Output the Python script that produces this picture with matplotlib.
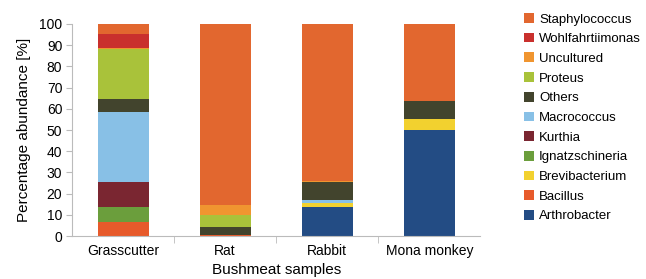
import numpy as np
import matplotlib
matplotlib.use("Agg")
import matplotlib.pyplot as plt

plt.rcParams["font.family"] = ["Liberation Sans", "DejaVu Sans"]

# --- Data (percent abundance) ---
samples = ["Grasscutter", "Rat", "Rabbit", "Mona monkey"]
arthrobacter = [0.0, 0.0, 13.5, 50.0]
bacillus = [6.8, 0.7, 0.0, 0.0]
brevibacterium = [0.0, 0.0, 1.9, 5.3]
ignatzschineria = [6.7, 0.0, 0.0, 0.0]
kurthia = [11.8, 0.0, 0.0, 0.0]
macrococcus = [33.3, 0.0, 1.4, 0.0]
others = [6.0, 3.7, 8.7, 8.5]
proteus = [23.8, 5.5, 0.0, 0.0]
uncultured = [0.3, 4.7, 0.5, 0.0]
wohlfahrtiimonas = [6.6, 0.0, 0.0, 0.0]
staphylococcus = [4.7, 85.4, 74.0, 36.2]

series = [
    ("Arthrobacter", arthrobacter, "#234C84"),
    ("Bacillus", bacillus, "#E75A2B"),
    ("Brevibacterium", brevibacterium, "#F2D12F"),
    ("Ignatzschineria", ignatzschineria, "#6B9E3C"),
    ("Kurthia", kurthia, "#7A2631"),
    ("Macrococcus", macrococcus, "#88C0E6"),
    ("Others", others, "#42442D"),
    ("Proteus", proteus, "#A9C23A"),
    ("Uncultured", uncultured, "#F09530"),
    ("Wohlfahrtiimonas", wohlfahrtiimonas, "#C9302D"),
    ("Staphylococcus", staphylococcus, "#E2672F"),
]

# --- Plot ---
fig = plt.figure(figsize=(6.46, 2.79), dpi=100)
ax = fig.add_axes([0.1115, 0.154, 0.632, 0.760])

x = np.arange(len(samples))
bottom = np.zeros(len(samples))
handles = []
for name, vals, color in series:
    b = ax.bar(x, vals, width=0.5, bottom=bottom, color=color, label=name)
    handles.append(b)
    bottom += np.array(vals)

ax.set_xlim(-0.5, len(samples) - 0.5)
ax.set_ylim(0, 100)
ax.set_yticks(range(0, 101, 10))
ax.set_xticks(x)
ax.set_xticklabels(samples)
ax.set_xticks(np.arange(0.5, len(samples) - 0.5, 1), minor=True)
ax.tick_params(axis="x", which="major", length=0, labelsize=10, pad=6)
ax.tick_params(axis="x", which="minor", length=5, color="#BBBBBB")
ax.tick_params(axis="y", length=4, color="#BBBBBB", labelsize=10, pad=3)

for side in ["top", "right"]:
    ax.spines[side].set_visible(False)
for side in ["left", "bottom"]:
    ax.spines[side].set_color("#BBBBBB")

ax.set_ylabel("Percentage abundance [%]", fontsize=11, labelpad=6)
ax.set_xlabel("Bushmeat samples", fontsize=11, labelpad=3)

leg = fig.legend(handles[::-1], [s[0] for s in series][::-1],
                 loc="upper left", bbox_to_anchor=(0.803, 0.972),
                 frameon=False, fontsize=9.5, handlelength=0.75,
                 handleheight=0.75, handletextpad=0.4, labelspacing=0.55,
                 borderaxespad=0)

fig.savefig("out.png", dpi=100)
